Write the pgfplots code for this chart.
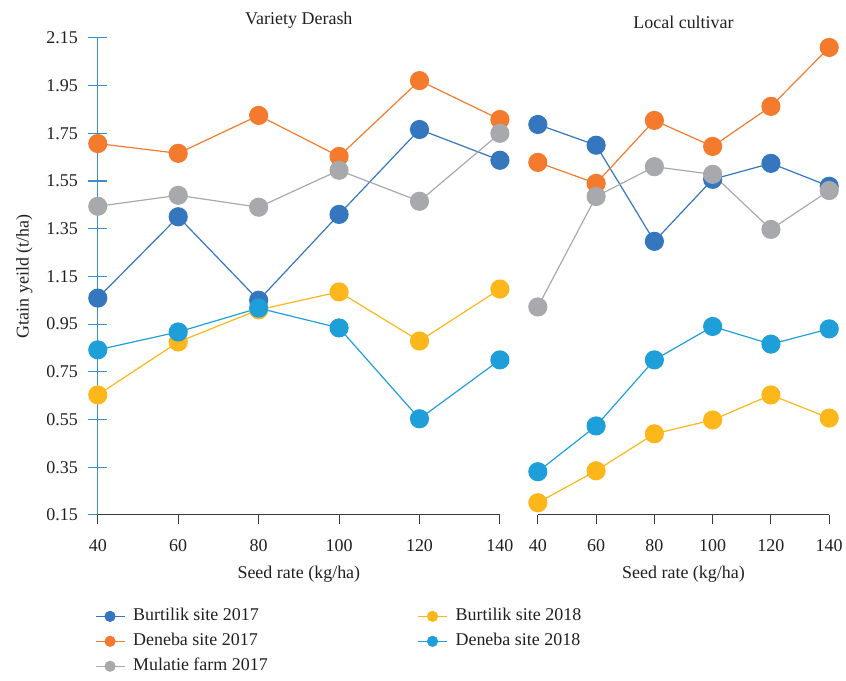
\documentclass[border=0pt]{standalone}
\usepackage{pgfplots}
\pgfplotsset{compat=1.18}
\usepackage{fontspec}
\setmainfont{Liberation Serif}
\definecolor{cBa}{HTML}{3477BF}
\definecolor{cDa}{HTML}{F47B2D}
\definecolor{cMa}{HTML}{A7A9AC}
\definecolor{cBb}{HTML}{FDB71A}
\definecolor{cDb}{HTML}{1F9FD9}
\definecolor{axblue}{HTML}{3E8DCB}
\definecolor{axgray}{HTML}{3A3A3A}
\definecolor{txtc}{HTML}{231F20}
\begin{document}
\color{txtc}
\begin{tikzpicture}[font=\fontsize{18}{21}\selectfont]
\path (-98pt,-166pt) rectangle (748pt,516pt);
\pgfplotsset{
  base/.style={scale only axis, height=478pt, xmin=40, xmax=140, ymin=0.15, ymax=2.15, clip=false,
    /pgf/number format/assume math mode=true,
    tick label style={font=\fontsize{18}{21}\selectfont},
    label style={font=\fontsize{18}{21}\selectfont},
    title style={font=\fontsize{18}{21}\selectfont},
    every axis plot/.append style={line width=1.2pt, mark=*, mark size=9pt},
  },
  xax/.style={axis y line=none, axis x line=bottom,
    x axis line style={-, draw=axgray, line width=1.1pt},
    xtick={40,60,80,100,120,140}, tick align=outside, major tick length=9pt,
    xtick style={draw=axgray, line width=1.1pt}, ytick=\empty,
    xticklabel style={yshift=-12pt},
    xlabel style={yshift=-8pt},
    xlabel={Seed rate (kg/ha)}},
}
% y axis of left panel
\begin{axis}[base, width=403pt, at={(0pt,0pt)}, axis x line=none, axis y line=left,
  y axis line style={-, draw=axblue, line width=1.1pt},
  ytick={0.15,0.35,0.55,0.75,0.95,1.15,1.35,1.55,1.75,1.95,2.15},
  yticklabels={0.15,0.35,0.55,0.75,0.95,1.15,1.35,1.55,1.75,1.95,2.15},
  tick align=center, major tick length=19pt,
  yticklabel style={xshift=-7pt},
  ylabel style={yshift=7pt},
  ytick style={draw=axblue, line width=1.1pt}, xtick=\empty,
  ylabel={Gtain yeild (t/ha)}]
\end{axis}
% left panel
\begin{axis}[base, xax, width=403pt, at={(0pt,0pt)}, title={Variety Derash},
  legend columns=2, legend cell align=left,
  legend style={draw=none, fill=none, at={(axis description cs:0,0)}, anchor=north west,
    xshift=-6pt, yshift=-87pt, font=\fontsize{18}{21}\selectfont, row sep=0pt,
    nodes={inner ysep=4pt, text height=13pt, text depth=4pt},
    /tikz/every odd column/.append style={column sep=6pt},
    /tikz/every even column/.append style={column sep=148pt}},
  legend image code/.code={\draw[mark repeat=2, mark phase=2, mark size=5pt] plot coordinates {(0pt,0pt) (14.5pt,0pt) (29pt,0pt)};}]
\addplot[color=cBa] coordinates {(40,1.059) (60,1.40) (80,1.05) (100,1.41) (120,1.766) (140,1.637)};
\addlegendentry{Burtilik site 2017}
\addplot[color=cBb] coordinates {(40,0.653) (60,0.875) (80,1.01) (100,1.085) (120,0.879) (140,1.097)};
\addlegendentry{Burtilik site 2018}
\addplot[color=cDa] coordinates {(40,1.707) (60,1.666) (80,1.825) (100,1.653) (120,1.971) (140,1.808)};
\addlegendentry{Deneba site 2017}
\addplot[color=cDb] coordinates {(40,0.842) (60,0.917) (80,1.017) (100,0.934) (120,0.553) (140,0.80)};
\addlegendentry{Deneba site 2018}
\addplot[color=cMa] coordinates {(40,1.444) (60,1.49) (80,1.44) (100,1.595) (120,1.465) (140,1.75)};
\addlegendentry{Mulatie farm 2017}
\end{axis}
% right panel
\begin{axis}[base, xax, width=292pt, at={(441pt,0pt)}, title={Local cultivar}]
\addplot[color=cBa] coordinates {(40,1.787) (60,1.70) (80,1.297) (100,1.557) (120,1.624) (140,1.528)};
\addplot[color=cBb] coordinates {(40,0.201) (60,0.335) (80,0.49) (100,0.548) (120,0.653) (140,0.556)};
\addplot[color=cDa] coordinates {(40,1.628) (60,1.54) (80,1.804) (100,1.695) (120,1.863) (140,2.11)};
\addplot[color=cDb] coordinates {(40,0.331) (60,0.523) (80,0.80) (100,0.94) (120,0.866) (140,0.93)};
\addplot[color=cMa] coordinates {(40,1.022) (60,1.485) (80,1.61) (100,1.578) (120,1.347) (140,1.51)};
\end{axis}
\end{tikzpicture}
\end{document}
